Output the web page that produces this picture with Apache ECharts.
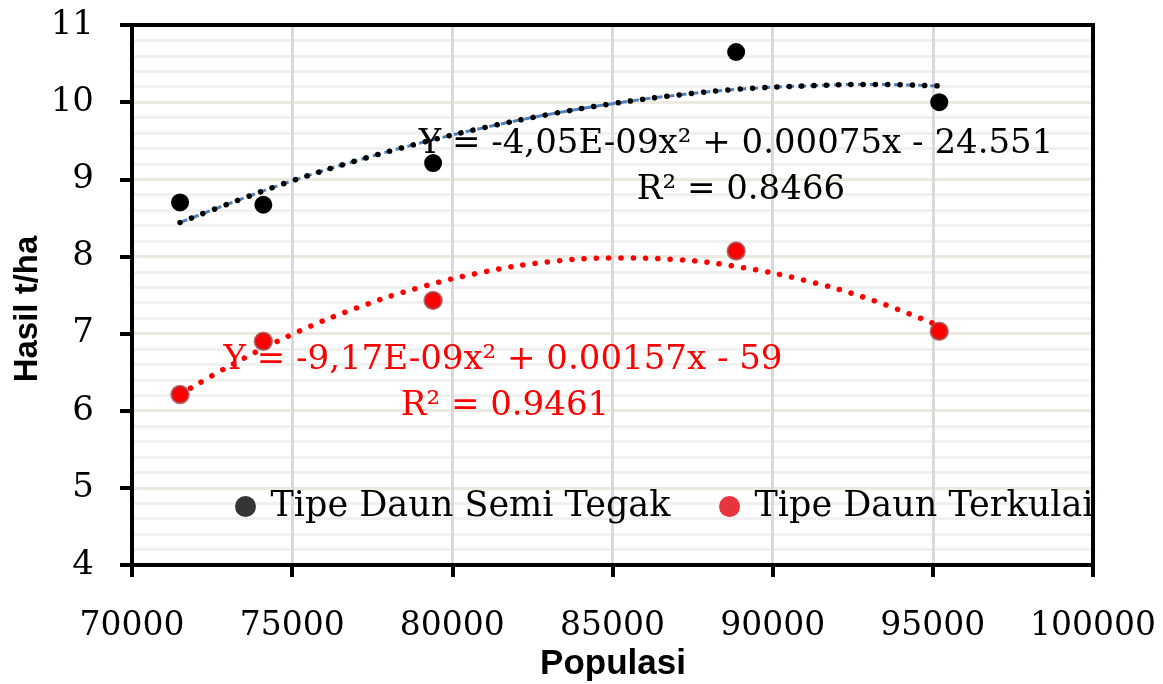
<!DOCTYPE html>
<html>
<head>
<meta charset="utf-8">
<script src="https://cdn.jsdelivr.net/npm/echarts@6/dist/echarts.min.js"></script>
<style>
html,body{margin:0;padding:0;background:#fff;}
#chart{width:1163px;height:684px;}
</style>
</head>
<body>
<div id="chart"></div>
<script>
// ---- data ----
const seriesNames = ['Tipe Daun Semi Tegak', 'Tipe Daun Terkulai'];
const populasi = [71500, 74100, 79400, 88860, 95200];
const semiTegak = [8.70, 8.67, 9.21, 10.65, 10.00];
const terkulai = [6.21, 6.90, 7.43, 8.07, 7.03];

// trend lines (polynomial, order 2)
const trendX = [71500, 73000, 75000, 77000, 79000, 81000, 83000, 85000, 87000, 89000, 91000, 93000, 95200];
const semiTrend = [8.44, 8.68, 8.98, 9.24, 9.47, 9.67, 9.84, 9.98, 10.09, 10.17, 10.21, 10.23, 10.21];
const terkTrend = [6.21, 6.57, 6.99, 7.33, 7.60, 7.80, 7.93, 7.98, 7.96, 7.86, 7.69, 7.45, 7.10];

const eqSemi = 'Y = -4,05E-09x² + 0.00075x - 24.551';
const r2Semi = 'R² = 0.8466';
const eqTerk = 'Y = -9,17E-09x² + 0.00157x - 59';
const r2Terk = 'R² = 0.9461';

const xAxisTitle = 'Populasi';
const yAxisTitle = 'Hasil t/ha';

const pairs = (xs, ys) => xs.map((x, i) => [x, ys[i]]);

const SERIF = "'DejaVu Serif', 'Liberation Serif', serif";
const SANS = "'Liberation Sans', Arial, sans-serif";

const G = {left: 132, top: 25, right: 70, bottom: 119};
const gw = 1163 - G.left - G.right, gh = 684 - G.top - G.bottom;

const chart = echarts.init(document.getElementById('chart'), null, {renderer: 'canvas'});
chart.setOption({
  animation: false,
  backgroundColor: '#fff',
  grid: {left: G.left, top: G.top, right: G.right, bottom: G.bottom, show: false},
  xAxis: {
    type: 'value', min: 70000, max: 100000, interval: 5000,
    axisLine: {show: true, onZero: false, lineStyle: {color: '#000', width: 4}},
    axisTick: {show: true, length: 12, lineStyle: {color: '#000', width: 4}},
    axisLabel: {margin: 45, fontSize: 33, fontFamily: SERIF, color: '#000', showMinLabel: true, showMaxLabel: true,
      formatter: v => String(v)},
    splitLine: {show: true, lineStyle: {color: '#d9d9d9', width: 3}}
  },
  yAxis: {
    type: 'value', min: 4, max: 11, interval: 1,
    axisLine: {show: true, onZero: false, lineStyle: {color: '#000', width: 4}},
    axisTick: {show: true, length: 12, lineStyle: {color: '#000', width: 4}},
    axisLabel: {margin: 38, fontSize: 34, fontFamily: SERIF, color: '#000'},
    splitLine: {show: true, lineStyle: {color: '#ece9e0', width: 3}},
    minorTick: {show: false, splitNumber: 5},
    minorSplitLine: {show: true, lineStyle: {color: '#f0f0f0', width: 3}}
  },
  legend: [
    {
      data: [{name: seriesNames[0], icon: 'circle', itemStyle: {color: '#353535', borderWidth: 0}}],
      left: 235, top: 489, itemWidth: 40, itemHeight: 21, padding: 0,
      textStyle: {fontSize: 35, fontFamily: SERIF, color: '#000', lineHeight: 35},
      selectedMode: false
    },
    {
      data: [{name: seriesNames[1], icon: 'circle', itemStyle: {color: '#e8343c', borderWidth: 0}}],
      left: 719, top: 489, itemWidth: 40, itemHeight: 21, padding: 0,
      textStyle: {fontSize: 35, fontFamily: SERIF, color: '#000', lineHeight: 35},
      selectedMode: false
    }
  ],
  series: [
    {
      name: 'semiTrendBlue', type: 'line', data: pairs(trendX, semiTrend), smooth: 0.4,
      symbol: 'none', z: 2, silent: true,
      lineStyle: {color: '#4f81bd', width: 3, type: [8, 4]}
    },
    {
      name: 'semiTrend', type: 'line', data: pairs(trendX, semiTrend), smooth: 0.4,
      symbol: 'none', z: 3, silent: true,
      lineStyle: {color: '#000', width: 5.5, type: [0.1, 12.2], cap: 'round'}
    },
    {
      name: 'terkTrend', type: 'line', data: pairs(trendX, terkTrend), smooth: 0.4,
      symbol: 'none', z: 3, silent: true,
      lineStyle: {color: '#ff0000', width: 5.5, type: [0.1, 12.2], cap: 'round'}
    },
    {
      name: seriesNames[0], type: 'scatter', data: pairs(populasi, semiTegak),
      symbol: 'circle', symbolSize: 18, z: 5,
      itemStyle: {color: '#000', opacity: 1}
    },
    {
      name: seriesNames[1], type: 'scatter', data: pairs(populasi, terkulai),
      symbol: 'circle', symbolSize: 17, z: 5,
      itemStyle: {color: '#ff0000', borderColor: 'rgba(160,60,60,0.7)', borderWidth: 2.5, opacity: 1}
    }
  ],
  graphic: [
    {type: 'rect', z: 100, silent: true, shape: {x: G.left, y: G.top, width: gw, height: gh},
     style: {fill: 'none', stroke: '#000', lineWidth: 4}},
    {type: 'text', z: 50, x: 736, y: 144, silent: true,
     style: {text: eqSemi, fontSize: 34, fontFamily: SERIF, fill: '#000', align: 'center', verticalAlign: 'middle'}},
    {type: 'text', z: 50, x: 741, y: 190, silent: true,
     style: {text: r2Semi, fontSize: 34, fontFamily: SERIF, fill: '#000', align: 'center', verticalAlign: 'middle'}},
    {type: 'text', z: 50, x: 503, y: 360, silent: true,
     style: {text: eqTerk, fontSize: 34, fontFamily: SERIF, fill: '#ff0000', align: 'center', verticalAlign: 'middle'}},
    {type: 'text', z: 50, x: 505, y: 406, silent: true,
     style: {text: r2Terk, fontSize: 34, fontFamily: SERIF, fill: '#ff0000', align: 'center', verticalAlign: 'middle'}},
    {type: 'text', z: 50, x: 613, y: 664, silent: true,
     style: {text: xAxisTitle, fontSize: 35, fontWeight: 'bold', fontFamily: SANS, fill: '#000', align: 'center', verticalAlign: 'middle'}},
    {type: 'text', z: 50, x: 28, y: 309, rotation: Math.PI / 2, silent: true,
     style: {text: yAxisTitle, fontSize: 33, fontWeight: 'bold', fontFamily: SANS, fill: '#000', align: 'center', verticalAlign: 'middle'}}
  ]
});
</script>
</body>
</html>
